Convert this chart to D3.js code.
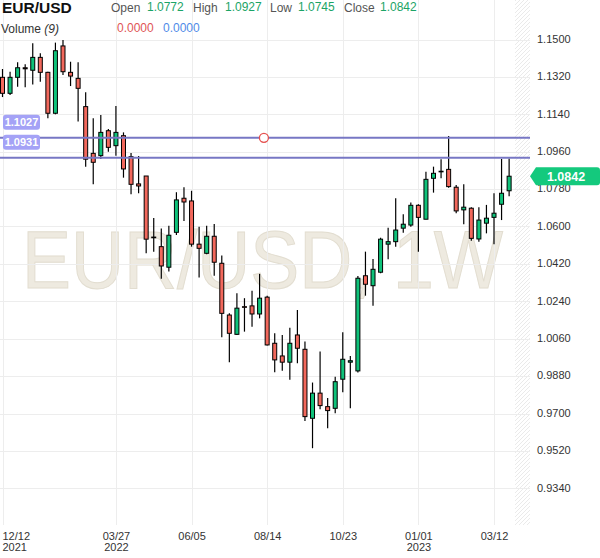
<!DOCTYPE html>
<html><head><meta charset="utf-8">
<script src="https://cdn.jsdelivr.net/npm/d3@7"></script>
<style>body{margin:0;background:#fff}svg{display:block;font-family:Arial,"Liberation Sans",sans-serif}</style>
</head><body><svg id="c" width="600" height="558"></svg>
<script>
// ---- data ----
const firstWeek = "2021-12-12", lastWeek = "2023-03-26";
const open  = [1.1318,1.1241,1.1318,1.1364,1.1352,1.1414,1.1342,1.1145,1.1469,1.1342,1.1313,1.1177,1.0952,1.0941,1.1061,1.0989,1.1037,1.0936,1.0805,1.0843,1.0549,1.0503,1.0404,1.0572,1.0736,1.0723,1.0515,1.0471,1.0553,1.0423,1.0174,1.0081,1.0214,1.0218,1.0179,1.0260,1.0038,0.9977,0.9947,1.0078,1.0009,0.9677,0.9798,0.9733,0.9725,0.9865,0.9947,0.9905,1.0363,1.0315,1.0380,1.0515,1.0527,1.0592,1.0607,1.0702,1.0635,1.0832,1.0866,1.0875,1.0789,1.0680,1.0688,1.0540,1.0616,1.0644,1.0707,1.0772];
const high  = [1.1358,1.1345,1.1390,1.1381,1.1482,1.1434,1.1345,1.1485,1.1498,1.1393,1.1390,1.1246,1.1121,1.1137,1.1069,1.1180,1.1053,1.0954,1.0939,1.0843,1.0641,1.0590,1.0604,1.0765,1.0789,1.0772,1.0599,1.0604,1.0612,1.0460,1.0182,1.0279,1.0255,1.0291,1.0372,1.0267,1.0086,1.0078,1.0113,1.0198,1.0046,0.9849,0.9998,0.9774,0.9877,1.0091,0.9977,1.0362,1.0479,1.0444,1.0546,1.0594,1.0736,1.0659,1.0715,1.0707,1.0864,1.0888,1.0924,1.1036,1.0800,1.0803,1.0693,1.0693,1.0704,1.0760,1.0925,1.0927];
const low   = [1.1223,1.1233,1.1273,1.1270,1.1284,1.1297,1.1121,1.1140,1.1329,1.1276,1.1105,1.0888,1.0803,1.0925,1.0960,1.0941,1.0835,1.0755,1.0760,1.0471,1.0479,1.0348,1.0383,1.0559,1.0627,1.0503,1.0354,1.0466,1.0363,1.0067,0.9947,1.0078,1.0094,1.0118,1.0158,1.0027,0.9899,0.9906,0.9862,0.9942,0.9664,0.9533,0.9721,0.9629,0.9701,0.9802,0.9725,0.9897,1.0267,1.0219,1.0375,1.0442,1.0503,1.0570,1.0599,1.0479,1.0635,1.0763,1.0832,1.0787,1.0664,1.0611,1.0532,1.0527,1.0567,1.0515,1.0631,1.0745];
const close = [1.1241,1.1318,1.1364,1.1359,1.1414,1.1342,1.1145,1.1446,1.1345,1.1324,1.1265,1.0924,1.0909,1.1053,1.0981,1.1053,1.0877,1.0803,1.0795,1.0539,1.0546,1.0410,1.0558,1.0728,1.0718,1.0515,1.0495,1.0553,1.0428,1.0182,1.0086,1.0207,1.0212,1.0179,1.0255,1.0030,0.9958,0.9947,1.0038,1.0014,0.9685,0.9798,0.9738,0.9714,0.9853,0.9961,0.9954,1.0351,1.0322,1.0394,1.0539,1.0527,1.0583,1.0611,1.0702,1.0644,1.0827,1.0856,1.0863,1.0792,1.0675,1.0693,1.0543,1.0631,1.0640,1.0664,1.0760,1.0842];

const yTicks = [1.1500,1.1320,1.1140,1.0960,1.0780,1.0600,1.0420,1.0240,1.0060,0.9880,0.9700,0.9520,0.9340];
const xTickDates  = ["2021-12-12","2022-03-27","2022-06-05","2022-08-14","2022-10-23","2023-01-01","2023-03-12"];
const xTickLabels = ["12/12","03/27","06/05","08/14","10/23","01/01","03/12"];
const xTickYears  = ["2021","2022","","","","2023",""];
const levels      = [1.1027, 1.0931];
const levelLabels = ["1.1027","1.0931"];
const markerDate = "2022-08-11";
const symbol = "EUR/USD", watermark = "EUR/USD, 1W";
const ohlcNames  = ["Open","High","Low","Close"];
const ohlcValues = ["1.0772","1.0927","1.0745","1.0842"];
const volumeValues = ["0.0000","0.0000"];
const lastPrice = 1.0842;

// ---- setup ----
const parse = d3.utcParse("%Y-%m-%d");
const dates = d3.utcSunday.range(parse(firstWeek), d3.utcDay.offset(parse(lastWeek), 1));
const candles = dates.map((d,i)=>({d, o:open[i], h:high[i], l:low[i], c:close[i]}));

const W = 600, H = 558, plotR = 530, plotB = 525;
const x = d3.scaleUtc().domain([parse("2021-12-12"), parse("2023-03-12")]).range([2.5, 494]);
const y = d3.scaleLinear().domain([1.15, 0.934]).range([39.5, 488.3]);

const svg = d3.select("#c");
const defs = svg.append("defs");
const pat = defs.append("pattern").attr("id","hatch").attr("patternUnits","userSpaceOnUse")
  .attr("width",4).attr("height",4);
pat.append("path").attr("d","M-1,1 l2,-2 M0,4 l4,-4 M3,5 l2,-2").attr("stroke","#e4e4e4").attr("stroke-width",0.8);

// hatch (future area)
svg.append("rect").attr("x",515).attr("y",0).attr("width",plotR-515).attr("height",plotB)
  .attr("fill","url(#hatch)");

// watermark
svg.append("text").attr("transform","translate(22,288) scale(0.895,1)").attr("font-size",82)
  .attr("fill","#eeeae0").attr("stroke","#e2ddd0").attr("stroke-width",1)
  .text(watermark);

// grid
const grid = svg.append("g").attr("stroke","#ededed").attr("stroke-width",1);
grid.selectAll("line.h").data(yTicks).join("line").attr("class","h")
  .attr("x1",0).attr("x2",plotR).attr("y1",d=>Math.round(y(d))+0.5).attr("y2",d=>Math.round(y(d))+0.5);
grid.selectAll("line.v").data(xTickDates).join("line").attr("class","v")
  .attr("y1",0).attr("y2",plotB).attr("x1",d=>Math.round(x(parse(d)))+0.5).attr("x2",d=>Math.round(x(parse(d)))+0.5);

// y axis
const yAxis = svg.append("g").attr("transform",`translate(${plotR},0)`)
  .call(d3.axisRight(y).tickValues(yTicks).tickSize(0).tickPadding(7).tickFormat(d3.format(".4f")));
yAxis.select(".domain").remove();
yAxis.selectAll("text").attr("font-size",11).attr("fill","#333").attr("font-family","Arial, 'Liberation Sans', sans-serif").attr("dy","0.25em");

// x axis
const xAxis = svg.append("g").attr("transform",`translate(0,${plotB})`)
  .call(d3.axisBottom(x).tickValues(xTickDates.map(parse)).tickSize(0).tickPadding(0).tickFormat(""));
xAxis.select(".domain").remove();
xAxis.selectAll(".tick").each(function(d,i){
  const g = d3.select(this);
  g.select("text").remove();
  const first = i===0;
  const lx = first ? 2 - x(parse(xTickDates[0])) : 0;
  const t = g.append("text").attr("fill","#333").attr("font-size",11)
    .attr("font-family","Arial, 'Liberation Sans', sans-serif")
    .attr("text-anchor", first ? "start" : "middle");
  t.append("tspan").attr("x", lx).attr("y",15).text(xTickLabels[i]);
  if (xTickYears[i]) t.append("tspan").attr("x", lx).attr("y",26).text(xTickYears[i]);
});

// candles
const up = "#0fc27a", down = "#f2685c";
const cg = svg.append("g");
const c = cg.selectAll("g").data(candles).join("g");
c.append("line").attr("x1",d=>x(d.d)).attr("x2",d=>x(d.d))
  .attr("y1",d=>y(d.h)).attr("y2",d=>y(d.l)).attr("stroke","#000").attr("stroke-width",1.2);
c.append("rect").attr("x",d=>x(d.d)-2).attr("width",4)
  .attr("y",d=>y(Math.max(d.o,d.c)))
  .attr("height",d=>Math.max(0.6, Math.abs(y(d.o)-y(d.c))))
  .attr("fill",d=>d.c>=d.o?up:down).attr("stroke","#000").attr("stroke-width",1);

// horizontal levels
const lv = svg.append("g");
lv.selectAll("line").data(levels).join("line")
  .attr("x1",0).attr("x2",plotR).attr("y1",d=>y(d)).attr("y2",d=>y(d))
  .attr("stroke","#7777c4").attr("stroke-width",2);
const lb = lv.selectAll("g.lb").data(levels).join("g").attr("class","lb")
  .attr("transform",d=>`translate(3,${y(d)-23})`);
lb.append("rect").attr("width",37).attr("height",15).attr("rx",3).attr("fill","#a4a2f6");
lb.append("text").attr("x",18.5).attr("y",11.3).attr("text-anchor","middle")
  .attr("font-size",11).attr("font-weight","bold").attr("fill","#fff").text((d,i)=>levelLabels[i]);
lv.append("circle").attr("cx",x(parse(markerDate))).attr("cy",y(levels[0])).attr("r",4.5)
  .attr("fill","#fff").attr("stroke","#e5514f").attr("stroke-width",1.3);

// price tag
const py = y(lastPrice);
svg.append("path").attr("d",`M${plotR},${py} L${plotR+6},${py-9} H597 Q600,${py-9} 600,${py-6} V${py+6} Q600,${py+9} 597,${py+9} H${plotR+6} Z`)
  .attr("fill","#14c97d");
svg.append("text").attr("x",566).attr("y",py+4.5).attr("text-anchor","middle")
  .attr("font-size",12.5).attr("font-weight","bold").attr("fill","#fff").text(d3.format(".4f")(lastPrice));

// header
const hd = svg.append("g");
hd.append("text").attr("x",2).attr("y",13).attr("font-size",15.5).attr("font-weight","bold").attr("fill","#111").text(symbol);
const nameX = [111,193,270,344], valX = [147,225,298,380];
ohlcNames.forEach((n,i)=>{
  hd.append("text").attr("x",nameX[i]).attr("y",12).attr("font-size",12).attr("fill","#555").text(n);
  hd.append("text").attr("x",valX[i]).attr("y",10.5).attr("font-size",12).attr("fill","#1ba466").text(ohlcValues[i]);
});
const vt = hd.append("text").attr("x",1).attr("y",33).attr("font-size",12).attr("fill","#333");
vt.append("tspan").text("Volume ");
vt.append("tspan").attr("font-style","italic").text("(9)");
hd.append("text").attr("x",117).attr("y",32).attr("font-size",12).attr("fill","#e05555").text(volumeValues[0]);
hd.append("text").attr("x",163).attr("y",32).attr("font-size",12).attr("fill","#4f8be8").text(volumeValues[1]);
</script></body></html>
